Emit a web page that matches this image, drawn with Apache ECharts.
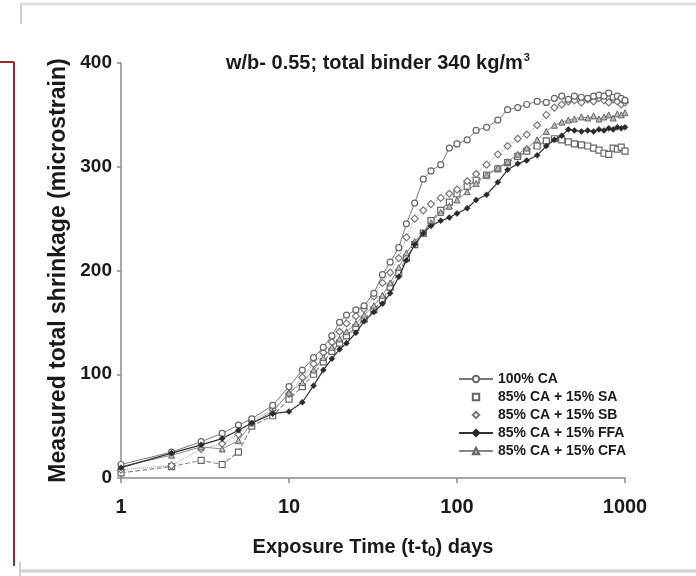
<!DOCTYPE html>
<html>
<head>
<meta charset="utf-8">
<script src="https://cdn.jsdelivr.net/npm/echarts@6/dist/echarts.min.js"></script>
<style>
html,body{margin:0;padding:0;background:#fff;}
#chart{width:696px;height:576px;}
</style>
</head>
<body>
<div id="chart"></div>
<script>
// ---- data ----
var days = [1,2,3,4,5,6,8,10,12,14,16,18,20,22,25,28,32,36,40,45,50,56,63,70,80,90,100,115,130,150,175,200,230,260,300,340,380,420,460,500,550,600,650,700,750,800,850,900,950,1000];
var ca  = [13,25,35,43,51,57,70,88,104,116,126,137,150,157,162,166,178,196,208,222,245,265,288,296,302,318,322,326,335,338,345,355,357,360,363,362,366,368,365,368,367,366,368,369,368,371,367,368,366,364];
var sa  = [5,11,17,13,25,50,60,76,88,100,112,122,130,137,145,153,162,172,184,198,212,225,236,248,258,266,274,281,287,292,298,304,310,315,320,325,327,326,324,322,321,320,318,316,313,312,318,317,319,315];
var sb  = [8,12,28,33,42,55,66,81,97,110,121,131,141,149,156,163,175,188,198,212,232,250,258,264,270,274,278,286,293,302,312,320,327,331,340,350,357,360,363,364,362,365,363,366,364,362,365,363,360,362];
var ffa = [10,24,32,38,46,53,62,64,73,89,104,115,124,130,140,151,160,168,178,194,210,225,236,243,248,251,255,260,268,273,285,297,303,306,311,320,326,330,336,335,334,335,334,336,335,337,336,338,337,338];
var cfa = [11,22,30,28,36,53,64,82,92,104,116,126,134,141,149,157,166,176,188,203,217,228,236,246,256,262,268,276,284,292,299,305,312,318,326,334,340,343,345,346,348,347,349,346,348,350,347,351,350,352];
var seriesNames = ['100% CA','85% CA + 15% SA','85% CA + 15% SB','85% CA + 15% FFA','85% CA + 15% CFA'];
var xTicks = [1,10,100,1000];
var yTicks = [0,100,200,300,400];

function pts(vals){ return days.map(function(d,i){ return [d, vals[i]]; }); }

var FONT = "'Liberation Sans', Arial, sans-serif";
var chart = echarts.init(document.getElementById('chart'), null, {renderer:'canvas'});

var option = {
  backgroundColor:'#fff',
  animation:false,
  title:{
    text:'w/b- 0.55; total binder 340 kg/m{sup|3}',
    left:221, top:47,
    textStyle:{
      fontFamily:FONT, fontWeight:'bold', fontSize:20, color:'#1a1a1a',
      rich:{ sup:{fontFamily:FONT, fontWeight:'bold', fontSize:11, color:'#1a1a1a', verticalAlign:'top', padding:[0,0,11,1]} }
    }
  },
  grid:{left:121, right:71, top:63, bottom:98, containLabel:false},
  xAxis:{
    type:'log', logBase:10, min:xTicks[0], max:xTicks[xTicks.length-1],
    name:'Exposure Time (t-t{sub|0}) days',
    nameLocation:'middle', nameGap:57,
    nameTextStyle:{fontFamily:FONT, fontWeight:'bold', fontSize:20, color:'#1a1a1a',
      rich:{sub:{fontFamily:FONT, fontWeight:'bold', fontSize:14, color:'#1a1a1a', padding:[10,0,0,0]}}},
    axisLine:{lineStyle:{color:'#8a8a8a', width:1.5}},
    axisTick:{show:true, inside:false, length:5, lineStyle:{color:'#8a8a8a', width:1.5}},
    minorTick:{show:false},
    splitLine:{show:false},
    axisLabel:{fontFamily:FONT, fontWeight:'bold', fontSize:20, color:'#1a1a1a', margin:19,
      formatter:function(v){ return String(v); }}
  },
  yAxis:{
    type:'value', min:yTicks[0], max:yTicks[yTicks.length-1], interval:100,
    name:'Measured total shrinkage (microstrain)',
    nameLocation:'middle', nameGap:51, nameRotate:90, nameMoveOverlap:false,
    nameTextStyle:{fontFamily:FONT, fontWeight:'bold', fontSize:23, color:'#1a1a1a'},
    axisLine:{show:true, lineStyle:{color:'#8a8a8a', width:1.5}},
    axisTick:{show:true, inside:false, length:4, lineStyle:{color:'#8a8a8a', width:1.5}},
    splitLine:{show:false},
    axisLabel:{fontFamily:FONT, fontWeight:'bold', fontSize:19, color:'#1a1a1a', margin:9}
  },
  legend:{
    orient:'vertical', left:453, top:367,
    itemWidth:34, itemHeight:8, itemGap:4,
    textStyle:{fontFamily:FONT, fontWeight:'bold', fontSize:14, color:'#1a1a1a'},
    data:[
      {name:seriesNames[0]},
      {name:seriesNames[1], lineStyle:{opacity:0}},
      {name:seriesNames[2], lineStyle:{opacity:0}},
      {name:seriesNames[3]},
      {name:seriesNames[4]}
    ]
  },
  series:[
    {name:seriesNames[0], type:'line', data:pts(ca), symbol:'circle', symbolSize:6,
      lineStyle:{color:'#7a7a7a', width:1}, itemStyle:{color:'#fff', borderColor:'#666', borderWidth:1.2}, z:5},
    {name:seriesNames[1], type:'line', data:pts(sa), symbol:'rect', symbolSize:6,
      lineStyle:{color:'#8a8a8a', width:1.2, type:'dashed'}, itemStyle:{color:'#fff', borderColor:'#666', borderWidth:1.2}, z:3},
    {name:seriesNames[2], type:'line', data:pts(sb), symbol:'diamond', symbolSize:7,
      lineStyle:{color:'#9a9a9a', width:1, type:'dotted'}, itemStyle:{color:'#fff', borderColor:'#777', borderWidth:1.2}, z:4},
    {name:seriesNames[3], type:'line', data:pts(ffa), symbol:'diamond', symbolSize:6,
      lineStyle:{color:'#333', width:1.2}, itemStyle:{color:'#2a2a2a', borderColor:'#2a2a2a', borderWidth:0.5}, z:6},
    {name:seriesNames[4], type:'line', data:pts(cfa), symbol:'triangle', symbolSize:6,
      lineStyle:{color:'#8a8a8a', width:1}, itemStyle:{color:'#bbb', borderColor:'#666', borderWidth:1}, z:4}
  ],
  graphic:[
    {type:'line', shape:{x1:0,y1:62,x2:14,y2:62}, style:{stroke:'#8b3030', lineWidth:2}, silent:true},
    {type:'line', shape:{x1:14,y1:62,x2:14,y2:566}, style:{stroke:'#8b3030', lineWidth:2}, silent:true},
    {type:'line', shape:{x1:20,y1:4,x2:696,y2:4}, style:{stroke:'#e2e2e2', lineWidth:3}, silent:true},
    {type:'line', shape:{x1:21,y1:4,x2:21,y2:24}, style:{stroke:'#cfcfcf', lineWidth:2}, silent:true},
    {type:'line', shape:{x1:19,y1:571,x2:696,y2:571}, style:{stroke:'#d0d0d0', lineWidth:3}, silent:true},
    {type:'line', shape:{x1:20,y1:562,x2:20,y2:576}, style:{stroke:'#cfcfcf', lineWidth:2}, silent:true}
  ]
};
chart.setOption(option);
</script>
</body>
</html>
